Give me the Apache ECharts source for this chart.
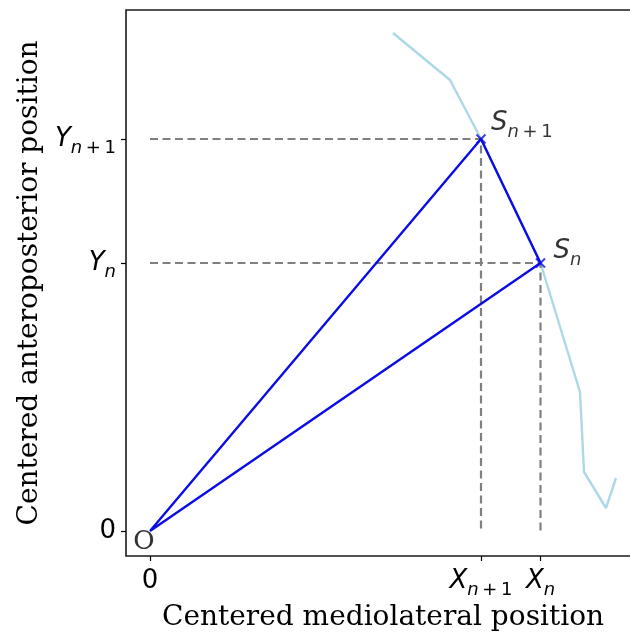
<!DOCTYPE html>
<html><head><meta charset="utf-8">
<script src="https://cdn.jsdelivr.net/npm/echarts@6/dist/echarts.min.js"></script>
<style>html,body{margin:0;padding:0;background:#fff}#c{width:630px;height:632px}</style>
</head><body><div id="c"></div>
<script>
// ---- data ----
const originPoint = [0, 0];
const originName = 'O';
const pointX = [390.5, 331];      // S_n, S_{n+1}
const pointY = [268, 392];
const pointMain = ['S', 'S'];
const pointSub = ['n', 'n\u2009+\u20091'];
const trajX = [243, 300, 331, 390.5, 430, 434, 456, 466];
const trajY = [498, 451, 392, 268, 139, 59, 23, 53];
const xTickValues = [0, 331, 390.5];
const xTickMain = ['0', 'X', 'X'];
const xTickSub = ['', 'n\u2009+\u20091', 'n'];
const yTickValues = [0, 268, 392];
const yTickMain = ['0', 'Y', 'Y'];
const yTickSub = ['', 'n', 'n\u2009+\u20091'];
const xTitle = 'Centered mediolateral position';
const yTitle = 'Centered anteroposterior position';

// ---- helpers ----
function richLabel(main, sub) {
  if (!sub) return '{d|' + main + '}';
  const parts = sub.split('\u2009+\u2009');
  let s = '{m|' + main + '}{si|' + parts[0] + '}';
  if (parts.length > 1) s += '{su|\u2009+\u2009' + parts[1] + '}';
  return s;
}
const LH = 36;
const rich = {
  d:  {fontFamily: 'DejaVu Sans', fontSize: 26, color: '#000', lineHeight: LH},
  m:  {fontFamily: 'DejaVu Sans', fontStyle: 'italic', fontSize: 26, color: '#000', lineHeight: LH},
  si: {fontFamily: 'DejaVu Sans', fontStyle: 'italic', fontSize: 18, color: '#000', lineHeight: LH, padding: [18, 0, 0, 0]},
  su: {fontFamily: 'DejaVu Sans', fontSize: 18, color: '#000', lineHeight: LH, padding: [18, 0, 0, 0]}
};
function tickFormatter(values, mains, subs) {
  return function (v) {
    let idx = 0, best = Infinity;
    values.forEach((t, i) => { const d = Math.abs(t - v); if (d < best) { best = d; idx = i; } });
    return richLabel(mains[idx], subs[idx]);
  };
}

const trajData = trajX.map((x, i) => [x, trajY[i]]);
const guideSeries = pointX.map((x, i) => ({
  type: 'line', silent: true, symbol: 'none', z: 3,
  lineStyle: {color: '#808080', width: 2.2, type: [8, 4.5]},
  data: [[originPoint[0], pointY[i]], [x, pointY[i]], [x, originPoint[1]]]
}));
const triangle = [originPoint, [pointX[1], pointY[1]], [pointX[0], pointY[0]], originPoint];
const labelOffsets = [{distance: 6, offset: [0, -12]}, {distance: 3, offset: [0, -16]}];
const pointData = pointX.map((x, i) => ({
  value: [x, pointY[i]],
  label: {show: true, position: 'right', distance: labelOffsets[i].distance, offset: labelOffsets[i].offset,
          formatter: richLabel(pointMain[i], pointSub[i]), rich: rich, color: '#000'}
}));

const chart = echarts.init(document.getElementById('c'), null, {renderer: 'canvas'});
chart.setOption({
  animation: false,
  backgroundColor: '#fff',
  grid: {left: 126, top: 10, right: -10, bottom: 76, show: true, borderColor: '#1a1a1a', borderWidth: 1.6,
         backgroundColor: 'transparent', containLabel: false, outerBoundsMode: 'none'},
  xAxis: {
    type: 'value', min: -24, max: 490,
    splitLine: {show: false},
    axisLine: {show: false, onZero: false},
    axisTick: {show: true, length: 5, lineStyle: {color: '#000', width: 1.2}, customValues: xTickValues},
    axisLabel: {margin: 7, customValues: xTickValues, formatter: tickFormatter(xTickValues, xTickMain, xTickSub), rich: rich},
    name: xTitle, nameLocation: 'middle', nameGap: 46,
    nameTextStyle: {fontFamily: 'DejaVu Serif', fontSize: 28, color: '#000'}
  },
  yAxis: {
    type: 'value', min: -25, max: 521,
    splitLine: {show: false},
    axisLine: {show: false, onZero: false},
    axisTick: {show: true, length: 5, lineStyle: {color: '#000', width: 1.2}, customValues: yTickValues},
    axisLabel: {margin: 10, customValues: yTickValues, formatter: tickFormatter(yTickValues, yTickMain, yTickSub), rich: rich},
    name: yTitle, nameLocation: 'middle', nameGap: 82, nameRotate: 90,
    nameTextStyle: {fontFamily: 'DejaVu Serif', fontSize: 28, color: '#000'}
  },
  series: [
    {type: 'line', silent: true, symbol: 'none', z: 2, data: trajData,
     lineStyle: {color: '#add8e6', width: 2.4}},
    ...guideSeries,
    {type: 'line', silent: true, symbol: 'none', z: 4, data: triangle,
     lineStyle: {color: '#0c0ce6', width: 2.4}},
    {type: 'scatter', silent: true, z: 5, symbol: 'path://M0,0L10,10M10,0L0,10', symbolSize: 9,
     itemStyle: {color: 'none', borderColor: '#0c0ce6', borderWidth: 2},
     data: pointData},
    {type: 'scatter', silent: true, z: 5, symbolSize: 1, itemStyle: {color: 'transparent'},
     data: [{value: originPoint, label: {show: true, position: 'inside', offset: [-6, 11],
       formatter: originName, fontFamily: 'DejaVu Serif', fontSize: 26, color: '#000'}}]}
  ]
});
</script></body></html>
